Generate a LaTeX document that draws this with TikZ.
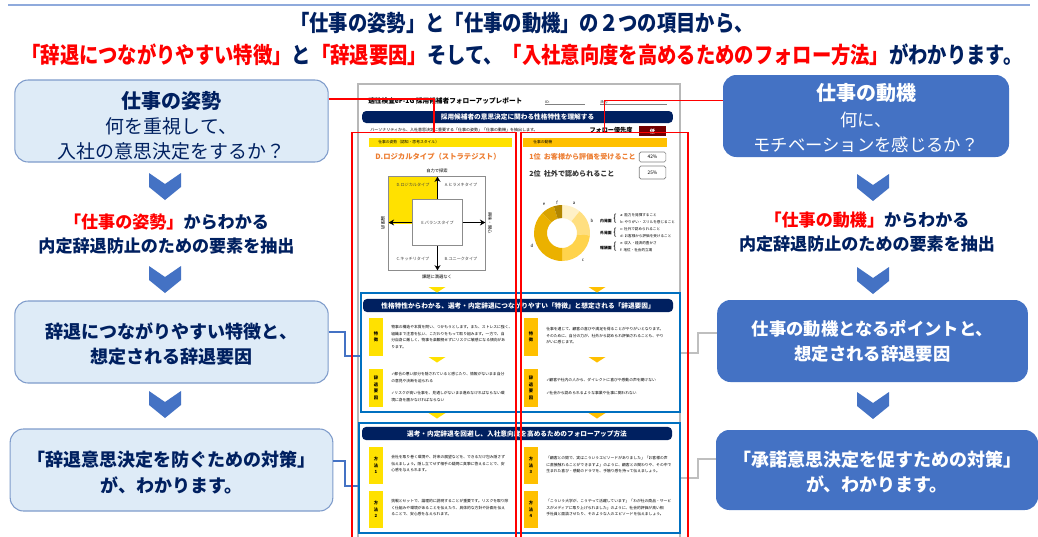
\documentclass[tikz,border=0pt]{standalone}
\usepackage{fontspec}
\usepackage{xcolor}
\usetikzlibrary{arrows.meta}
\setmainfont{Noto Sans CJK JP}
\newfontfamily\narrowfont[FakeStretch=0.86]{Noto Sans CJK JP}
\newfontfamily\checkfont{DejaVu Sans}
\newcommand{\chk}{{\checkfont ✓}}
\definecolor{navy}{HTML}{002060}
\definecolor{boxblue}{HTML}{4472C4}
\definecolor{palefill}{HTML}{DEEBF7}
\definecolor{paleedge}{HTML}{7F9CCB}
\definecolor{frameblue}{HTML}{0070C0}
\definecolor{docyellow}{HTML}{FFE100}
\definecolor{docorange}{HTML}{FFC000}
\definecolor{headorange}{HTML}{ED7D31}
\tikzset{
	x=0.75pt,y=-0.75pt,
	leftbox/.style={draw=paleedge,fill=palefill,line width=0.8pt,rounded corners=10pt,align=center,text=navy,inner sep=0pt},
	rightbox/.style={draw=none,fill=boxblue,rounded corners=10pt,align=center,text=white,inner sep=0pt},
	midtext/.style={align=center,text=navy,inner sep=0pt,font=\fontsize{12.8}{18}\selectfont\bfseries},
	bar/.style={fill=navy,rounded corners=3pt,text=white,inner sep=0pt,font=\fontsize{5}{6}\selectfont\bfseries},
	frame/.style={draw=frameblue,line width=1.5pt,inner sep=0pt},
	redbox/.style={draw=red,line width=1.2pt,inner sep=0pt},
	redline/.style={draw=red,line width=1.2pt},
	blueline/.style={draw=boxblue,line width=1.2pt},
	grayline/.style={draw=black!25,line width=1.2pt},
	doctext/.style={font=\fontsize{2.85}{4.9}\selectfont,align=left,anchor=north west,inner sep=0pt},
	tag/.style={align=center,inner sep=0pt,minimum width=10.5pt,font=\fontsize{3.2}{4.9}\selectfont\bfseries},
	quadtext/.style={font=\fontsize{3.1}{5}\selectfont,inner sep=0pt,text=black!75},
	axistext/.style={font=\fontsize{3.2}{4}\selectfont,inner sep=0pt},
	legend/.style={font=\fontsize{2.7}{3.5}\selectfont,anchor=west,inner sep=0pt},
	legendhead/.style={font=\fontsize{2.9}{3.5}\selectfont\bfseries,inner sep=0pt},
	pct/.style={draw=black!50,fill=white,rounded corners=1.2pt,line width=0.5pt,inner sep=0pt,minimum width=20pt,font=\fontsize{3.6}{4}\selectfont},
	matarrow/.style={draw=black,-{Stealth[length=4pt,width=4.5pt]},line width=1.3pt},
	chevron/.pic={\fill[boxblue] (-16,0) -- (0,11) -- (16,0) -- (16,14) -- (0,27) -- (-16,14) -- cycle;},
}
\begin{document}
\begin{tikzpicture}
	\useasboundingbox (0,0) rectangle (1038,536);
	\clip (0,0) rectangle (1038,536);
	\fill[white] (0,0) rectangle (1038,536);
	\coordinate (topa) at (8,5);
	\coordinate (topb) at (1030,5);
	\draw[color=boxblue!60,line width=1pt] (topa) -- (topb);

	% title
	\node[align=center,text=navy,inner sep=0pt,font=\fontsize{16.85}{24}\selectfont\narrowfont\bfseries] at (522,39.5) (title) {「仕事の姿勢」と「仕事の動機」の２つの項目から、\\\textcolor{red}{「辞退につながりやすい特徴」}と\textcolor{red}{「辞退要因」}そして、\textcolor{red}{「入社意向度を高めるためのフォロー方法」}がわかります。};

	% report page
	\node[draw=black!28,fill=white,line width=1.6pt,minimum width=241.5pt,minimum height=357pt,inner sep=0pt] at (519,322) (page) {};
	\node[anchor=west,inner sep=0pt,font=\fontsize{5}{6}\selectfont\bfseries] at (368,101) (reptitle) {適性検査eF-1G 採用候補者フォローアップレポート};
	\node[anchor=south west,inner sep=0pt,font=\fontsize{2.6}{3}\selectfont] at (545,104) (idlabel) {ID:};
	\coordinate (idend) at (585,104);
	\draw[black!50,line width=0.3pt] (idlabel.south west) -- (idend);
	\node[anchor=south west,inner sep=0pt,font=\fontsize{2.6}{3}\selectfont] at (600,104) (namelabel) {氏名:};
	\coordinate (nameend) at (667,104);
	\draw[black!50,line width=0.3pt] (namelabel.south west) -- (nameend);
	\node[bar,minimum width=233pt,minimum height=9pt] at (517.5,117) (barone) {採用候補者の意思決定に関わる性格特性を理解する};
	\node[anchor=west,inner sep=0pt,font=\fontsize{3}{3.5}\selectfont] at (370,130) (lead) {パーソナリティから、入社意思決定に重要する「仕事の姿勢」「仕事の動機」を抽出します。};
	\node[inner sep=0pt,font=\fontsize{4.6}{6}\selectfont\bfseries] at (611,130) (prio) {フォロー優先度};
	\node[fill=red!45!black,text=white,inner sep=0pt,minimum width=20pt,minimum height=7.5pt,font=\fontsize{4}{5}\selectfont\bfseries] at (652.5,131) (priobox) {低};

	% attitude column
	\node[fill=docyellow,minimum width=107pt,minimum height=6.8pt,inner sep=0pt] at (440.5,142.5) (bandl) {};
	\node[anchor=west,inner sep=0pt,font=\fontsize{2.85}{3.5}\selectfont] at (378,142.5) {仕事の姿勢（認知・思考スタイル）};
	\node[text=headorange,inner sep=0pt,font=\fontsize{5.5}{8}\selectfont\bfseries] at (438,157) (typehead) {D.ロジカルタイプ（ストラテジスト）};
	\node[minimum width=72pt,minimum height=70pt,inner sep=0pt] at (437,223.5) (quad) {};
	\fill[docyellow] (quad.north west) rectangle (quad.center);
	\draw[black!45,line width=0.7pt] (quad.north west) rectangle (quad.south east);
	\node[draw=black!45,fill=white,line width=0.7pt,minimum width=37pt,minimum height=35pt,inner sep=0pt] at (437.5,222.5) (quadmid) {};
	\node[quadtext] at (quadmid) {E.バランスタイプ};
	\draw[matarrow] (quadmid.north) -- (quadmid.north |- quad.north);
	\draw[matarrow] (quadmid.south) -- (quadmid.south |- quad.south);
	\draw[matarrow] (quadmid.west) -- (quadmid.west -| quad.west);
	\draw[matarrow] (quadmid.east) -- (quadmid.east -| quad.east);
	\node[quadtext] at (413,185) {D.ロジカルタイプ};
	\node[quadtext] at (461,185) {A.ヒラメキタイプ};
	\node[quadtext] at (413,259) {C.キッチリタイプ};
	\node[quadtext] at (461,259) {B.ユニークタイプ};
	\node[axistext] at (437,171) {自力で探索};
	\node[axistext] at (437,277) {課題に満遍なく};
	\node[axistext,rotate=-90] at (383,223) {論理的};
	\node[axistext,rotate=-90] at (490,223) {興味・関心};

	% motive column
	\node[fill=docorange,minimum width=108pt,minimum height=6.8pt,inner sep=0pt] at (595,142.5) (bandr) {};
	\node[anchor=west,inner sep=0pt,font=\fontsize{2.85}{3.5}\selectfont] at (533,142.5) {仕事の動機};
	\node[anchor=west,text=headorange,inner sep=0pt,font=\fontsize{5.3}{7}\selectfont\bfseries] at (529,157) (rankone) {1位\ \ お客様から評価を受けること};
	\node[anchor=west,text=black!80,inner sep=0pt,font=\fontsize{5.3}{7}\selectfont\bfseries] at (529,174) (ranktwo) {2位\ \ 社外で認められること};
	\node[pct,minimum height=7.5pt] at (652.5,157) (pctone) {42\%};
	\node[pct,minimum height=9.7pt] at (652.5,172.5) (pcttwo) {25\%};
	\foreach \a/\b/\c in {-90/-51/docorange!22,-51/5/docorange!50,5/90/docorange!70,90/225/docorange!92!black,225/253/docorange!85!black,253/270/docorange!70!black}
		\fill[\c,shift={(562,233)}] (\a:28) arc[start angle=\a,end angle=\b,radius=28] -- (\b:15) arc[start angle=\b,end angle=\a,radius=15] -- cycle;
	\foreach \lx/\ly/\lt in {574/203/a,592/221/b,583/260/c,532/246/d,544/204/e,557/203/f}
		\node[axistext] at (\lx,\ly) {\lt};
	\foreach \ly/\lh in {221/内発面,233/外発面,248/報酬面}
		\node[legendhead] at (606,\ly) {\lh};
	\foreach \ly in {218.5,232.5,246.5}
		\node[inner sep=0pt,font=\fontsize{7}{8}\selectfont] at (615,\ly) {\{};
	\foreach \ly/\lt in {215/a: 能力を発揮すること,222/b: やりがい・スリルを感じること,229/c: 社外で認められること,236/d: お客様から評価を受けること,243/e: 収入・経済的豊かさ,250/f: 地位・社会的立場}
		\node[legend] at (620,\ly) {\lt};

	% first frame
	\node[frame,minimum width=239pt,minimum height=89pt] at (520.5,352.5) (frameone) {};
	\node[bar,minimum width=232.5pt,minimum height=9.8pt] at (518,305.5) (bartwo) {性格特性からわかる、選考・内定辞退につながりやすい「特徴」と想定される「辞退要因」};
	\node[tag,fill=docyellow,minimum height=28.5pt] at (376,337) (tagla) {特\\徴};
	\node[tag,fill=docorange,minimum height=28.5pt] at (531,337) (tagra) {特\\徴};
	\node[tag,fill=docyellow,minimum height=28.5pt] at (376,388) (taglb) {辞\\退\\要\\因};
	\node[tag,fill=docorange,minimum height=28.5pt] at (531,388) (tagrb) {辞\\退\\要\\因};
	\node[doctext] at (391,325) {物事の構造や本質を問い、つかもうとします。また、ストレスに強く、\\組織まで注意を払い、こだわりをもって取り組みます。一方で、自\\分自身に厳しく、物事を楽観視せずにリスクに敏感になる傾向があ\\ります。};
	\node[doctext] at (546,327) {仕事を通じて、顧客の喜びや満足を得ることがやりがいとなります。\\そのために、自分の力が、社外から認められ評価されることも、やり\\がいに感じます。};
	\node[doctext] at (391,372) {\chk 都合の悪い部分を隠されていると感じたり、情報がないまま自分\\の意見や決断を迫られる};
	\node[doctext] at (391,391) {\chk リスクが高い仕事を、見通しがないまま進めなければならない環\\境に身を置かなければならない};
	\node[doctext] at (546,378) {\chk 顧客や社内の人から、ダイレクトに喜びや感動の声を聞けない};
	\node[doctext] at (546,391) {\chk 社会から認められるような事業や仕事に関われない};

	% second frame
	\node[frame,minimum width=241pt,minimum height=82.5pt] at (519.5,478) (frametwo) {};
	\node[bar,minimum width=232.5pt,minimum height=9.8pt] at (517,433.5) (barthree) {選考・内定辞退を回避し、入社意向度を高めるためのフォローアップ方法};
	\node[tag,fill=docyellow,minimum height=28pt] at (376,465.5) (methodone) {方\\法\\1};
	\node[tag,fill=docyellow,minimum height=28pt] at (376,509.5) (methodtwo) {方\\法\\2};
	\node[tag,fill=docorange,minimum height=28pt] at (531,465.5) (methodthree) {方\\法\\3};
	\node[tag,fill=docorange,minimum height=28pt] at (531,509.5) (methodfour) {方\\法\\4};
	\node[doctext] at (391,455) {会社を取り巻く環境や、将来の展望などを、できるだけ包み隠さず\\伝えましょう。隠し立てせず相手の疑問に真摯に答えることで、安\\心感を与えられます。};
	\node[doctext] at (391,499) {挑戦とセットで、論理的に説明することが重要です。リスクを取り除\\く仕組みや環境があることを伝えたり、具体的な方針や計画を伝え\\ることで、安心感を与えられます。};
	\node[doctext] at (546,456) {「顧客との間で、実はこういうエピソードがありました」「お客様の声\\に直接触れることができますよ」のように、顧客との関わりや、その中で\\生まれた喜び・感動のドラマを、手触り感を持って伝えましょう。};
	\node[doctext] at (546,499) {「こういう大学が、こうやって活躍しています」「わが社の商品・サービ\\スがメディアに取り上げられました」のように、社会的評価が高い相\\手社員と面談させたり、そのような人のエピソードを伝えましょう。};

	% small triangles
	\foreach \tx/\tc in {437/docyellow,597/docorange}
		\foreach \ty in {287,357,413}
			\fill[\tc] (\tx-8.5,\ty) -- (\tx+8.5,\ty) -- (\tx,\ty+5.5) -- cycle;

	% left column
	\node[leftbox,minimum width=235pt,minimum height=61.5pt,font=\fontsize{14.2}{18.4}\selectfont] at (171.5,121) (shisei) {\rule{0pt}{20pt}{\fontsize{15}{18.4}\selectfont\bfseries 仕事の姿勢}\\何を重視して、\\入社の意思決定をするか？};
	\pic at (165,173) {chevron};
	\node[midtext] at (166.5,234) (shiseimid) {\textcolor{red}{「仕事の姿勢」}からわかる\\内定辞退防止のための要素を抽出};
	\pic at (165,266) {chevron};
	\node[leftbox,minimum width=235pt,minimum height=61.5pt,font=\fontsize{13.5}{18.8}\selectfont\bfseries] at (171.5,342) (jitai) {\rule{0pt}{15pt}辞退につながりやすい特徴と、\\想定される辞退要因};
	\pic at (165,391) {chevron};
	\node[leftbox,minimum width=242pt,minimum height=61.5pt,font=\fontsize{13.5}{19.8}\selectfont\bfseries] at (171.5,470) (taisaku) {\rule{0pt}{15pt}「辞退意思決定を防ぐための対策」\\が、わかります。};

	% right column
	\node[rightbox,minimum width=214.5pt,minimum height=61.5pt,font=\fontsize{13}{19}\selectfont] at (866,116) (doki) {\rule{0pt}{16pt}{\fontsize{15}{19}\selectfont\bfseries 仕事の動機}\\何に、\\モチベーションを感じるか？};
	\pic at (873,174) {chevron};
	\node[midtext] at (867,232.5) (dokimid) {\textcolor{red}{「仕事の動機」}からわかる\\内定辞退防止のための要素を抽出};
	\pic at (873,267) {chevron};
	\node[rightbox,minimum width=233pt,minimum height=61.5pt,font=\fontsize{13}{18.5}\selectfont\bfseries] at (872.5,341) (point) {仕事の動機となるポイントと、\\想定される辞退要因};
	\pic at (873,392) {chevron};
	\node[rightbox,minimum width=241.5pt,minimum height=60pt,font=\fontsize{13.5}{19}\selectfont\bfseries] at (877,470) (shodaku) {\rule{0pt}{15pt}「承諾意思決定を促すための対策」\\が、わかります。};

	% connectors into the report
	\coordinate (bendone) at (345,356);
	\coordinate (bendtwo) at (345,486);
	\coordinate (bendthree) at (698,353);
	\coordinate (bendfour) at (698,478);
	\coordinate (starta) at (0,332);
	\coordinate (startb) at (0,461);
	\coordinate (startc) at (0,333);
	\coordinate (startd) at (0,459);
	\draw[blueline] (jitai.east |- starta) -| (bendone) -- (frameone.west |- bendone);
	\draw[blueline] (taisaku.east |- startb) -| (bendtwo) -- (frametwo.west |- bendtwo);
	\draw[grayline] (point.west |- startc) -| (bendthree) -- (frameone.east |- bendthree);
	\draw[grayline] (shodaku.west |- startd) -| (bendfour) -- (frametwo.east |- bendfour);

	% red outlines
	\node[redbox,minimum width=123pt,minimum height=320pt] at (434,346) (redleft) {};
	\node[redbox,minimum width=125pt,minimum height=320pt] at (604.5,346) (redright) {};
	\coordinate (leftred) at (0,99);
	\coordinate (rightred) at (0,100.5);
	\draw[redline] (shisei.east |- leftred) -| (redleft.north);
	\draw[redline] (doki.west |- rightred) -| (redright.north);
\end{tikzpicture}
\end{document}
